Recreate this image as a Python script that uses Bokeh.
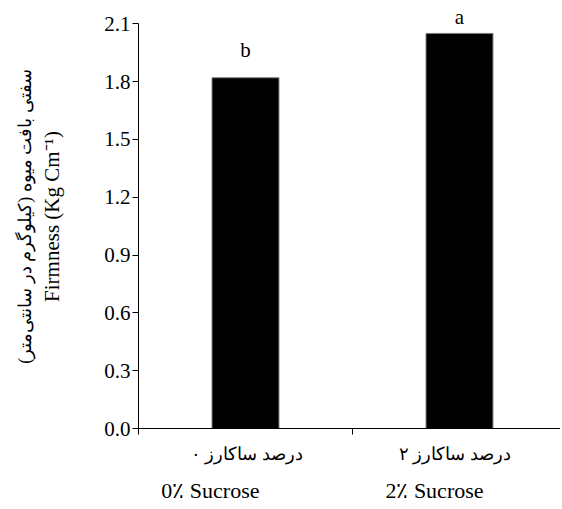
from bokeh.plotting import figure
from bokeh.models import FixedTicker, PrintfTickFormatter, Label, Range1d, LinearAxis
from bokeh.embed import file_html
from bokeh.resources import INLINE

# data
positions = [0.5, 1.5]
values = [1.82, 2.05]
letters = ["b", "a"]
fa_labels = ["۰ درصد ساکارز", "۲ درصد ساکارز"]
en_labels = ["0٪ Sucrose", "2٪ Sucrose"]
fa_label_pos = [0.505, 1.478]
en_label_pos = [0.336, 1.383]
y_ticks = [0.0, 0.3, 0.6, 0.9, 1.2, 1.5, 1.8, 2.1]
y_title_fa = "سفتی بافت میوه (کیلوگرم در سانتی‌متر)"
y_title_en = "Firmness (Kg Cm⁻¹)"

# styling
FONT = "Liberation Serif"
letter_offsets = [16, 4]

p = figure(width=560, height=505, output_backend="svg", toolbar_location=None,
           x_range=Range1d(0, 1.972), y_range=Range1d(0, 2.2),
           min_border_left=138, min_border_right=0, min_border_top=4,
           min_border_bottom=73)
p.outline_line_color = None
p.xgrid.visible = False
p.ygrid.visible = False
p.background_fill_color = "white"
p.border_fill_color = "white"

p.vbar(x=positions, top=values, width=0.313, fill_color="black",
       line_color="#808080", line_width=1)

# y axis
p.yaxis.bounds = (0, 2.1)
p.yaxis.ticker = FixedTicker(ticks=y_ticks)
p.yaxis.formatter = PrintfTickFormatter(format="%.1f")
p.yaxis.major_label_text_font = FONT
p.yaxis.major_label_text_font_size = "21px"
p.yaxis.major_label_text_color = "black"
p.yaxis.major_tick_in = 0
p.yaxis.major_tick_out = 6
p.yaxis.minor_tick_line_color = None
p.yaxis.major_label_standoff = 2
p.yaxis.axis_line_color = "black"
p.yaxis.major_tick_line_color = "black"
p.yaxis.axis_label = y_title_en
p.yaxis.axis_label_text_font = FONT
p.yaxis.axis_label_text_font_size = "21px"
p.yaxis.axis_label_text_font_style = "normal"
p.yaxis.axis_label_text_color = "black"
p.yaxis.axis_label_standoff = 37

fa_axis = LinearAxis(ticker=FixedTicker(ticks=[]), axis_line_color=None,
                     bounds=(0, 2.1),
                     major_tick_line_color=None, minor_tick_line_color=None,
                     axis_label=y_title_fa, axis_label_text_font=FONT,
                     axis_label_text_font_size="18px",
                     axis_label_text_font_style="normal",
                     axis_label_text_color="black", axis_label_standoff=3)
p.add_layout(fa_axis, "left")

# x axis: ticks at 0, 1, 2 (minor), Persian labels under the bars
p.xaxis.ticker = FixedTicker(ticks=fa_label_pos, minor_ticks=[0, 1, 2])
p.xaxis.major_label_overrides = {k: v for k, v in zip(fa_label_pos, fa_labels)}
p.xaxis.major_label_text_font = FONT
p.xaxis.major_label_text_font_size = "18px"
p.xaxis.major_label_text_color = "black"
p.xaxis.major_tick_line_color = None
p.xaxis.major_tick_in = 0
p.xaxis.major_tick_out = 6
p.xaxis.minor_tick_in = 0
p.xaxis.minor_tick_out = 6
p.xaxis.minor_tick_line_color = "black"
p.xaxis.axis_line_color = "black"
p.xaxis.major_label_standoff = 9

en_axis = LinearAxis(ticker=FixedTicker(ticks=en_label_pos),
                     major_label_overrides={k: v for k, v in zip(en_label_pos, en_labels)},
                     axis_line_color=None, major_tick_line_color=None,
                     minor_tick_line_color=None, major_tick_in=0, major_tick_out=0,
                     major_label_text_font=FONT, major_label_text_font_size="22px",
                     major_label_text_color="black", major_label_standoff=11)
p.add_layout(en_axis, "below")

# significance letters
for xpos, v, t, off in zip(positions, values, letters, letter_offsets):
    p.add_layout(Label(x=xpos, y=v, text=t, y_offset=off, text_align="center",
                       text_baseline="bottom", text_font=FONT,
                       text_font_size="21px", text_color="black"))

open("out.html", "w").write(file_html(p, INLINE))
